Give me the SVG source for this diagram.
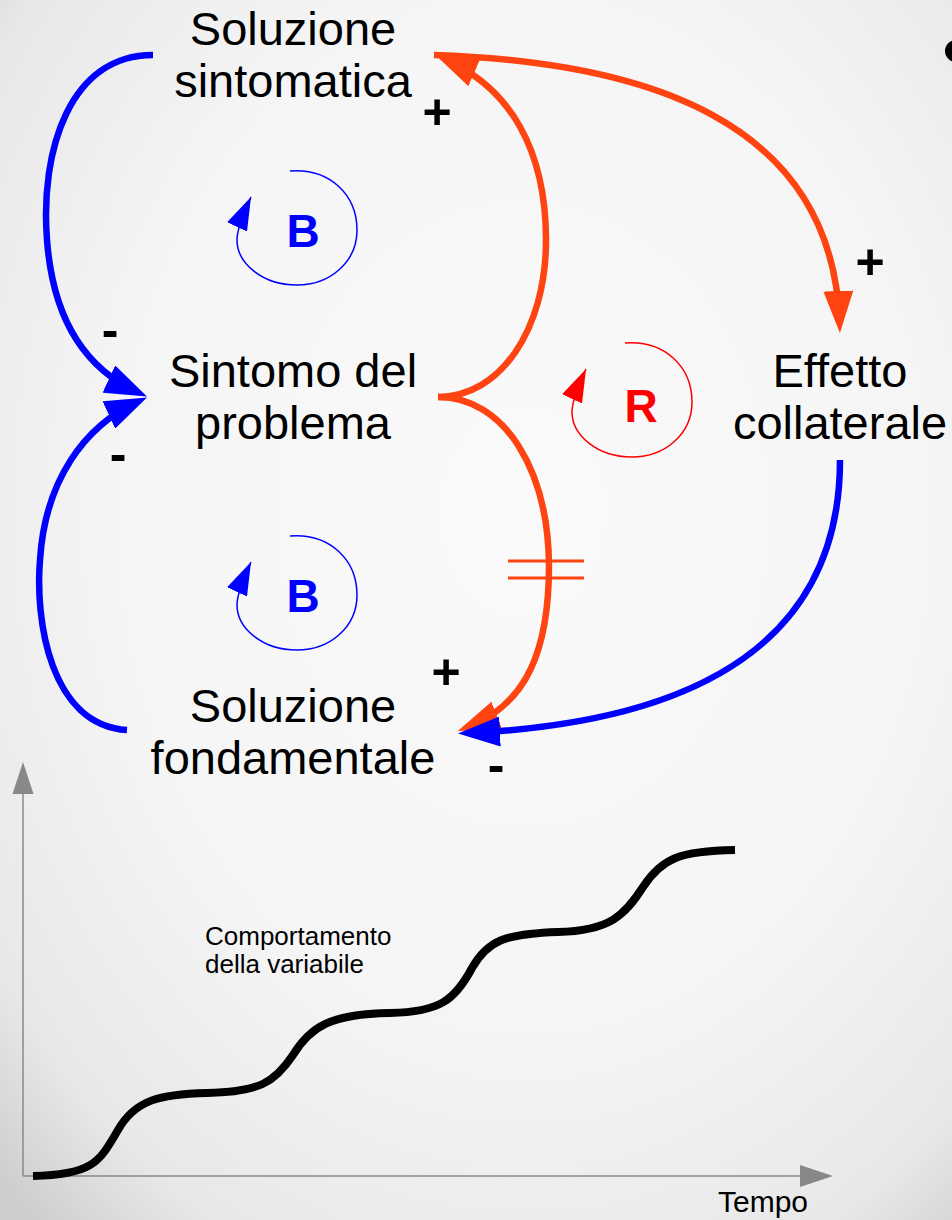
<svg xmlns="http://www.w3.org/2000/svg" width="952" height="1220" viewBox="0 0 952 1220">
  <defs>
    <radialGradient id="bg" cx="55%" cy="42%" r="78%">
      <stop offset="0" stop-color="#fafafa"/>
      <stop offset="0.55" stop-color="#f5f5f5"/>
      <stop offset="0.85" stop-color="#e8e8e8"/>
      <stop offset="1" stop-color="#cdcdcd"/>
    </radialGradient>
    <marker id="arrBlue" markerUnits="userSpaceOnUse" markerWidth="42" markerHeight="30" viewBox="0 0 42 30" refX="31" refY="15" orient="auto">
      <path d="M0,0 L42,15 L0,30 z" fill="#0000ff"/>
    </marker>
    <marker id="arrOrange" markerUnits="userSpaceOnUse" markerWidth="42" markerHeight="30" viewBox="0 0 42 30" refX="31" refY="15" orient="auto">
      <path d="M0,0 L42,15 L0,30 z" fill="#ff4411"/>
    </marker>
    <marker id="loopBlue" markerUnits="userSpaceOnUse" markerWidth="33" markerHeight="22" viewBox="0 0 33 22" refX="33" refY="11" orient="auto">
      <path d="M0,0 L33,11 L0,22 z" fill="#0000ff"/>
    </marker>
    <marker id="loopRed" markerUnits="userSpaceOnUse" markerWidth="33" markerHeight="22" viewBox="0 0 33 22" refX="33" refY="11" orient="auto">
      <path d="M0,0 L33,11 L0,22 z" fill="#ff0000"/>
    </marker>
  </defs>
  <style>
    .lbl { font-family: "Liberation Sans", Arial, sans-serif; font-size: 47px; fill: #000; text-anchor: middle; }
    .sign { font-family: "Liberation Sans", Arial, sans-serif; font-size: 50px; font-weight: bold; fill: #000; text-anchor: middle; }
    .loopTxtB { font-family: "Liberation Sans", Arial, sans-serif; font-size: 46px; font-weight: bold; fill: #0000ff; text-anchor: middle; }
    .loopTxtR { font-family: "Liberation Sans", Arial, sans-serif; font-size: 46px; font-weight: bold; fill: #ff0000; text-anchor: middle; }
    .small { font-family: "Liberation Sans", Arial, sans-serif; font-size: 26px; fill: #000; }
    .axisTxt { font-family: "Liberation Sans", Arial, sans-serif; font-size: 30px; fill: #000; text-anchor: middle; }
    .blue { fill: none; stroke: #0000ff; stroke-width: 6.5; }
    .orange { fill: none; stroke: #ff4411; stroke-width: 6.5; }
    .loopB { fill: none; stroke: #0000ff; stroke-width: 1.5; }
    .loopR { fill: none; stroke: #ff0000; stroke-width: 1.5; }
    .axis { fill: none; stroke: #888888; stroke-width: 1.5; }
  </style>

  <rect x="0" y="0" width="952" height="1220" fill="url(#bg)"/>

  <!-- bullet dot at top right -->
  <circle cx="956" cy="51" r="11" fill="#000"/>

  <g id="connectors">
    <!-- Soluzione sintomatica -> Sintomo del problema (-) -->
    <path class="blue" d="M153,55 C 70,55 40,150 47,240 C 53,320 85,368 137,392" marker-end="url(#arrBlue)"/>
    <!-- Soluzione fondamentale -> Sintomo del problema (-) -->
    <path class="blue" d="M127,730 C 50,725 35,620 40,560 C 45,480 85,426 137,402" marker-end="url(#arrBlue)"/>
    <!-- Sintomo del problema -> Soluzione sintomatica (+) -->
    <path class="orange" d="M438,397 C 500,397 546,330 546,240 C 546,150 510,88 446,60" marker-end="url(#arrOrange)"/>
    <!-- Sintomo del problema -> Soluzione fondamentale (+, delayed) -->
    <path class="orange" d="M438,397 C 505,397 548,470 549,565 C 549,650 527,704 468,727" marker-end="url(#arrOrange)"/>
    <!-- delay marks -->
    <line x1="508" y1="561" x2="584" y2="561" stroke="#ff4411" stroke-width="3"/>
    <line x1="508" y1="578" x2="584" y2="578" stroke="#ff4411" stroke-width="3"/>
    <!-- Soluzione sintomatica -> Effetto collaterale (+) -->
    <path class="orange" d="M434,55 C 645,62 832,120 839.5,322" marker-end="url(#arrOrange)"/>
    <!-- Effetto collaterale -> Soluzione fondamentale (-) -->
    <path class="blue" d="M840,460 C 840,640 700,722 469,733" marker-end="url(#arrBlue)"/>
  </g>

  <g id="loop-b-top">
    <path class="loopB" d="M290,171 C 330,168 357,195 357,230 C 357,262 330,285 297,285 C 262,285 237,263 237,240 C 237,228 244,212 251,197" marker-end="url(#loopBlue)"/>
    <text class="loopTxtB" x="303" y="247">B</text>
  </g>
  <g id="loop-b-bottom">
    <path class="loopB" d="M290,536 C 330,533 357,560 357,595 C 357,627 330,650 297,650 C 262,650 237,628 237,605 C 237,593 244,577 251,562" marker-end="url(#loopBlue)"/>
    <text class="loopTxtB" x="303" y="612">B</text>
  </g>
  <g id="loop-r">
    <path class="loopR" d="M625,343 C 665,340 692,367 692,402 C 692,434 665,457 632,457 C 597,457 572,435 572,412 C 572,400 579,384 586,369" marker-end="url(#loopRed)"/>
    <text class="loopTxtR" x="641" y="422">R</text>
  </g>

  <g id="node-soluzione-sintomatica">
    <text class="lbl" x="293" y="45">Soluzione</text>
    <text class="lbl" x="293" y="97">sintomatica</text>
  </g>
  <g id="node-sintomo-problema">
    <text class="lbl" x="293" y="387">Sintomo del</text>
    <text class="lbl" x="293" y="439">problema</text>
  </g>
  <g id="node-effetto-collaterale">
    <text class="lbl" x="840" y="387">Effetto</text>
    <text class="lbl" x="840" y="439">collaterale</text>
  </g>
  <g id="node-soluzione-fondamentale">
    <text class="lbl" x="293" y="722">Soluzione</text>
    <text class="lbl" x="293" y="774">fondamentale</text>
  </g>

  <g id="signs">
    <text class="sign" x="437" y="129">+</text>
    <text class="sign" x="870" y="279">+</text>
    <text class="sign" x="110" y="347">-</text>
    <text class="sign" x="118" y="471">-</text>
    <text class="sign" x="446" y="689">+</text>
    <text class="sign" x="496" y="782">-</text>
  </g>

  <g id="graph">
    <line class="axis" x1="23" y1="1176" x2="23" y2="792"/>
    <polygon points="23,762 12.5,794 33.5,794" fill="#888888"/>
    <line class="axis" x1="23" y1="1176" x2="802" y2="1176"/>
    <polygon points="833,1176 800,1165 800,1187" fill="#888888"/>
    <path d="M33,1176 C 95,1175 100,1160 118,1130 C 135,1100 160,1094 207,1093 C 260,1092 275,1082 293,1055 C 310,1027 330,1014 390,1013 C 440,1012 455,1000 472,968 C 488,940 505,934 558,932 C 610,931 625,915 643,887 C 662,858 680,851 735,850" fill="none" stroke="#000" stroke-width="8"/>
    <text class="small" x="205" y="945">Comportamento</text>
    <text class="small" x="205" y="973">della variabile</text>
    <text class="axisTxt" x="763" y="1212">Tempo</text>
  </g>
</svg>
